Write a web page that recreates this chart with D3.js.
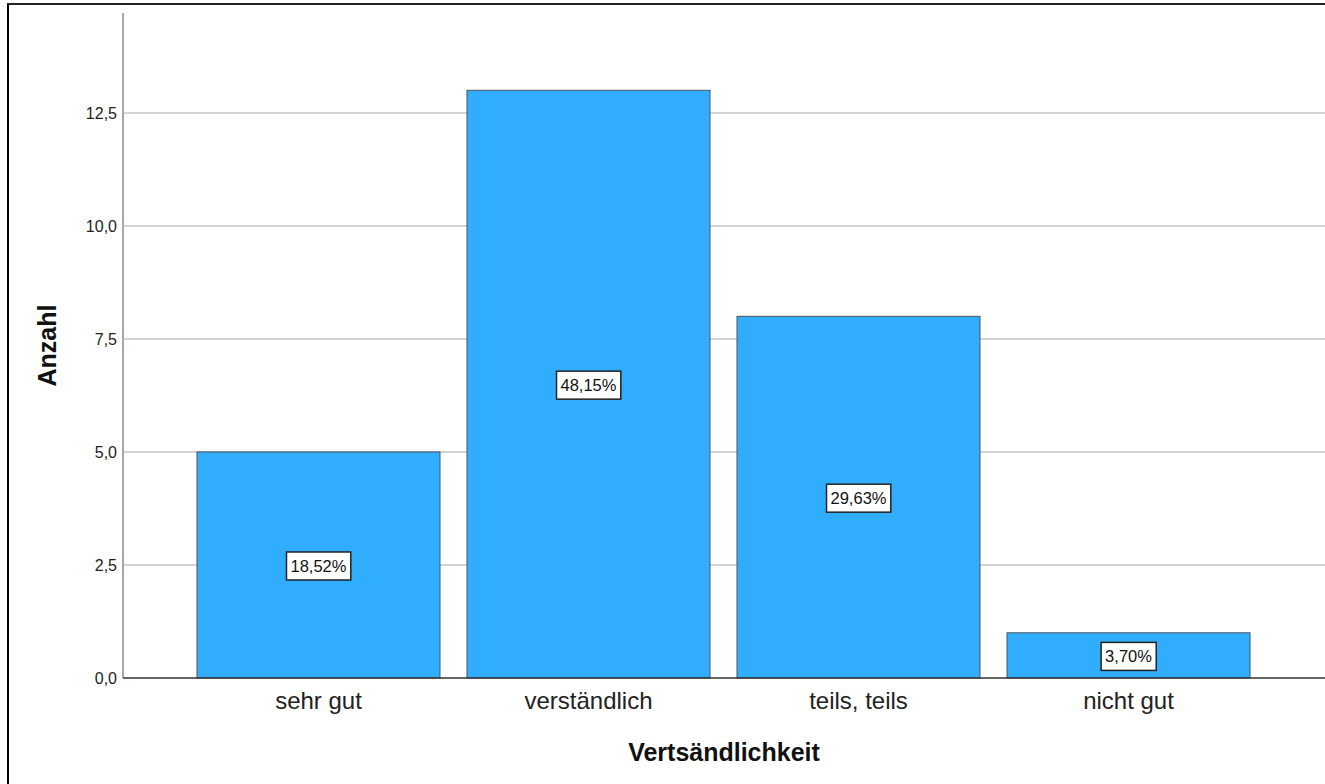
<!DOCTYPE html>
<html><head><meta charset="utf-8">
<script src="https://cdn.jsdelivr.net/npm/d3@7"></script>
<style>body{margin:0;background:#fff}svg{display:block;font-family:"Liberation Sans",Arial,sans-serif}</style>
</head><body>
<svg id="c" width="1325" height="784"></svg>
<script>
const categories = ["sehr gut", "verständlich", "teils, teils", "nicht gut"];
const counts = [5, 13, 8, 1];
const percentLabels = ["18,52%", "48,15%", "29,63%", "3,70%"];
const yTicks = [0, 2.5, 5, 7.5, 10, 12.5];
const xTitle = "Vertsändlichkeit";
const yTitle = "Anzahl";

(function () {
const svg = d3.select("#c");
const pL = 123, pR = 1324, pT = 13, pB = 678;

const x = d3.scaleBand().domain(categories).range([pL, pR]).paddingInner(0.1).paddingOuter(0.274);
const y = d3.scaleLinear().domain([0, 14.71]).range([pB, pT]);
const fmt = v => d3.format(".1f")(v).replace(".", ",");

// frame
svg.append("line").attr("x1", 8).attr("x2", 8).attr("y1", 4).attr("y2", 784).attr("stroke", "#000").attr("stroke-width", 2);
svg.append("line").attr("x1", 7).attr("x2", 1325).attr("y1", 4).attr("y2", 4).attr("stroke", "#222").attr("stroke-width", 2);

// gridlines
svg.append("g").selectAll("line").data(yTicks.filter(d => d > 0)).join("line")
  .attr("x1", pL).attr("x2", 1325).attr("y1", d => y(d)).attr("y2", d => y(d))
  .attr("stroke", "#c4c4c4").attr("stroke-width", 1.5);

// y axis
const ya = svg.append("g").attr("transform", `translate(${pL},0)`)
  .call(d3.axisLeft(y).tickValues(yTicks).tickFormat(fmt).tickSize(0).tickPadding(6));
ya.select(".domain").remove();
ya.selectAll("text").attr("font-size", 16).attr("fill", "#222").attr("font-family", "Liberation Sans, Arial, sans-serif");
svg.append("line").attr("x1", pL).attr("x2", pL).attr("y1", pT).attr("y2", pB).attr("stroke", "#a8a8a8").attr("stroke-width", 2);

// bars
svg.append("g").selectAll("rect").data(categories).join("rect")
  .attr("x", d => x(d)).attr("width", x.bandwidth())
  .attr("y", (d, i) => y(counts[i])).attr("height", (d, i) => y(0) - y(counts[i]))
  .attr("fill", "#31adfe").attr("stroke", "#4a5560").attr("stroke-width", 1);

// x axis
const xa = svg.append("g").attr("transform", `translate(0,${pB})`)
  .call(d3.axisBottom(x).tickSize(0).tickPadding(14));
xa.select(".domain").remove();
xa.selectAll("text").attr("font-size", 24).attr("fill", "#222").attr("font-family", "Liberation Sans, Arial, sans-serif");
svg.append("line").attr("x1", pL).attr("x2", 1325).attr("y1", pB).attr("y2", pB).attr("stroke", "#333").attr("stroke-width", 1.5);

// value labels
const lab = svg.append("g").selectAll("g").data(categories).join("g")
  .attr("transform", (d, i) => `translate(${x(d) + x.bandwidth() / 2},${y(counts[i] / 2) + 1})`);
lab.append("text").attr("text-anchor", "middle").attr("dy", "0.36em").attr("font-size", 16.5).attr("fill", "#111")
  .text((d, i) => percentLabels[i]);
lab.each(function () {
  const g = d3.select(this), bb = g.select("text").node().getBBox();
  g.insert("rect", "text").attr("x", bb.x - 4).attr("y", -14).attr("width", bb.width + 8).attr("height", 28)
    .attr("fill", "#fff").attr("stroke", "#222").attr("stroke-width", 1.5);
});

// titles
svg.append("text").attr("x", (pL + 1325) / 2).attr("y", 761).attr("text-anchor", "middle")
  .attr("font-size", 25).attr("font-weight", "bold").attr("fill", "#111").text(xTitle);
svg.append("text").attr("transform", `translate(56,${(pT + pB) / 2}) rotate(-90)`).attr("text-anchor", "middle")
  .attr("font-size", 25).attr("font-weight", "bold").attr("fill", "#111").text(yTitle);
})();
</script>
</body></html>
